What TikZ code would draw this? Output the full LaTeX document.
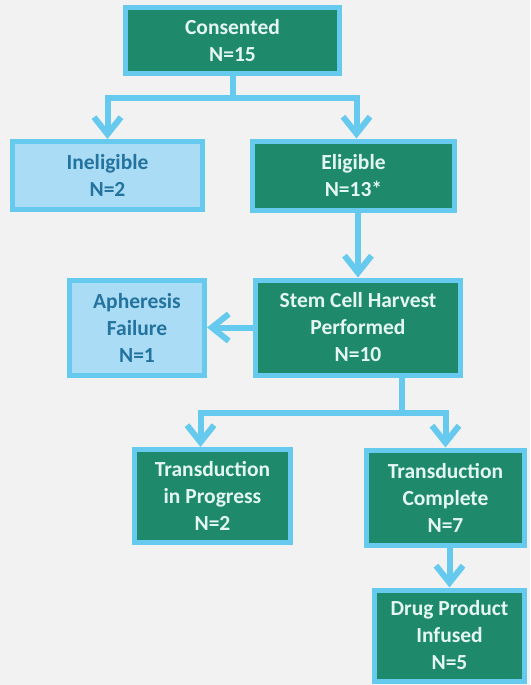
\documentclass[tikz,border=0pt]{standalone}
\usepackage{fontspec}
\setmainfont{Carlito}
\usetikzlibrary{arrows.meta,positioning}
\definecolor{HGreen}{HTML}{1E8A6B}
\definecolor{SkyEdge}{HTML}{66C9EE}
\definecolor{SkyFill}{HTML}{AADCF5}
\definecolor{NavyText}{HTML}{24739F}
\definecolor{MintText}{HTML}{E4F6F1}
\definecolor{PaperGray}{HTML}{F2F2F2}
\tikzset{
    block/.style = {draw=SkyEdge, fill=HGreen, text=MintText,
        line width=5pt, rectangle, align=center, inner sep=0pt,
        font=\bfseries\fontsize{21.5}{27}\selectfont},
    outblock/.style = {block, fill=SkyFill, text=NavyText},
    line/.style = {draw=SkyEdge, line width=6pt},
    arrow/.style = {line, -{Straight Barb[length=17pt,width=27pt]}}
}
\begin{document}
\begin{tikzpicture}[x=1pt,y=-1pt]
        \fill[PaperGray] (0,0) rectangle (530,685);
        % boxes
        \node[block, minimum width=214pt, minimum height=66pt] (cons) at (232.5,40.5) {Consented\\N=15};
        \node[outblock, minimum width=190pt, minimum height=68pt] (inel) at (107.5,175.5) {Ineligible\\N=2};
        \node[block, minimum width=202pt, minimum height=69pt] (elig) at (353.5,175.5) {Eligible\\N=13*};
        \node[outblock, minimum width=135pt, minimum height=95pt] (aph) at (137,327.5) {Apheresis\\Failure\\N=1};
        \node[block, minimum width=205pt, minimum height=95pt] (stem) at (358,327.5) {Stem Cell Harvest\\Performed\\N=10};
        \node[block, minimum width=156pt, minimum height=93pt] (tip) at (212.5,496) {Transduction\\in Progress\\N=2};
        \node[block, minimum width=158pt, minimum height=95pt] (tc) at (445.5,497.5) {Transduction\\Complete\\N=7};
        \node[block, minimum width=150pt, minimum height=91pt] (drug) at (449.5,635.5) {Drug Product\\Infused\\N=5};
        % connectors
        \draw[line] (cons.south) -- ++(0,22) coordinate (split1);
        \draw[arrow] (split1) -| (inel.north);
        \draw[arrow] (split1) -| ([xshift=3pt]elig.north);
        \draw[arrow] (stem.north |- elig.south) -- (stem.north);
        \draw[arrow] (stem.west) -- (aph.east);
        \draw[line] ([xshift=44pt]stem.south) -- ++(0,35) coordinate (split2);
        \draw[arrow] (split2) -| ([xshift=-12pt]tip.north);
        \draw[arrow] (split2) -| (tc.north);
        \draw[arrow] (tc.south -| drug.north) -- (drug.north);
\end{tikzpicture}
\end{document}
